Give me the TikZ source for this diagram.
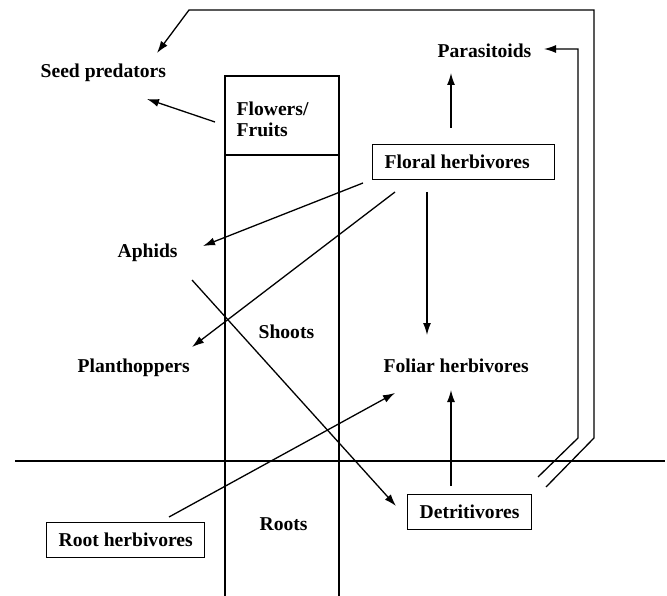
\documentclass[tikz,border=0pt]{standalone}
\usepackage{fontspec}
\setmainfont{Liberation Serif}
\usetikzlibrary{arrows.meta}
\begin{document}
\begin{tikzpicture}[x=1pt,y=-1pt,
  line width=1.3pt,
  every node/.style={font=\fontsize{19.6}{21}\selectfont\bfseries},
  lbl/.style={inner sep=0pt, anchor=base west},
  boxed/.style={draw, line width=1.3pt, anchor=north west, inner xsep=12pt, inner ysep=8.5pt, text height=15pt, text depth=3pt},
  arr/.style={-{Latex[length=12pt,width=8pt]}}]
\useasboundingbox (0,0) rectangle (667,596);
% plant column and ground
\coordinate (plantbl) at (225,596);
\coordinate (plantbr) at (339,596);
\coordinate (groundl) at (15,461);
\coordinate (groundr) at (665,461);
\draw (plantbl) -- (225,76) -- (339,76) -- (plantbr);
\draw (225,155) -- (339,155);
\draw (groundl) -- (groundr);
% labels
\node[lbl] (seed) at (40,78) {Seed predators};
\node[inner sep=0pt, anchor=north west, align=left] (flowers) at (236,101.5) {Flowers/\\Fruits};
\node[lbl] (parasitoids) at (437,58) {Parasitoids};
\node[boxed] (floral) at (372,144) {Floral herbivores\hspace*{13pt}};
\node[lbl] (aphids) at (117,258) {Aphids};
\node[lbl] (planthoppers) at (77,372) {Planthoppers};
\node[lbl] (shoots) at (258,338) {Shoots};
\node[lbl] (foliar) at (383,372) {Foliar herbivores};
\node[lbl] (roots) at (259,530) {Roots};
\node[boxed] (rootherb) at (46,522) {Root herbivores};
\node[boxed] (detrit) at (407,494) {Detritivores};
% connectors
\draw[arr] ([shift={(-21,20.5)}]flowers.north west) -- ([shift={(107,21)}]seed.base west);
\draw[arr] ([shift={(79,-16)}]floral.north west) -- ([shift={(14,15)}]parasitoids.base west);
\draw[arr] ([shift={(-9,39)}]floral.north west) -- ([shift={(86,-12)}]aphids.base west);
\draw[arr] ([shift={(23,48)}]floral.north west) -- ([shift={(115,-25)}]planthoppers.base west);
\draw[arr] ([shift={(55,48)}]floral.north west) -- ([shift={(44,-37)}]foliar.base west);
\draw[arr] ([shift={(75,22)}]aphids.base west) -- ([shift={(-11,12)}]detrit.north west);
\draw[arr] ([shift={(123,-5)}]rootherb.north west) -- ([shift={(12,21)}]foliar.base west);
\draw[arr] ([shift={(44,-8)}]detrit.north west) -- ([shift={(68,18)}]foliar.base west);
\draw[arr] ([shift={(139,-7)}]detrit.north west) -- ++(48,-49) -- ++(0,-428) -- ++(-405,0) -- ([shift={(117,-25)}]seed.base west);
\draw[arr] ([shift={(131,-17)}]detrit.north west) -- ++(40,-39) -- ++(0,-389) -- ([shift={(107,-9)}]parasitoids.base west);
\end{tikzpicture}
\end{document}
